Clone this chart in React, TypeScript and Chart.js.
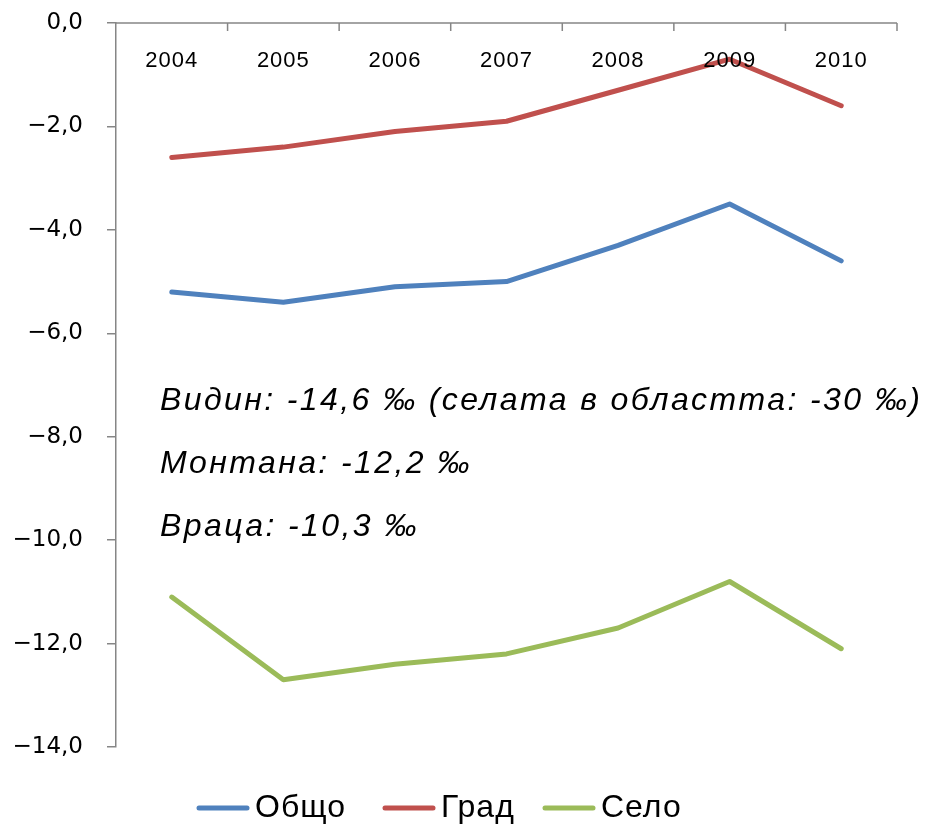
import React, { useEffect, useRef } from "react";
import { Chart, registerables } from "chart.js";

Chart.register(...registerables);

const categories = ["2004", "2005", "2006", "2007", "2008", "2009", "2010"];
const obshto = [-5.2, -5.4, -5.1, -5.0, -4.3, -3.5, -4.6];
const grad = [-2.6, -2.4, -2.1, -1.9, -1.3, -0.7, -1.6];
const selo = [-11.1, -12.7, -12.4, -12.2, -11.7, -10.8, -12.1];
const seriesNames = ["Общо", "Град", "Село"];
const seriesColors = ["#4F81BD", "#C0504D", "#9BBB59"];
const notes = [
  "Видин: -14,6 ‰ (селата в областта: -30 ‰)",
  "Монтана: -12,2 ‰",
  "Враца: -10,3 ‰",
];

const AXIS = "#868686";

const overlay = {
  id: "overlay",
  afterDraw(chart: any) {
    const { ctx, chartArea } = chart;
    const xs = chart.scales.x;
    const { left, right, top } = chartArea;
    ctx.save();
    // top category axis
    ctx.strokeStyle = AXIS;
    ctx.lineWidth = 1.5;
    ctx.beginPath();
    ctx.moveTo(left, top);
    ctx.lineTo(right, top);
    const n = categories.length;
    for (let i = 1; i <= n; i++) {
      const px = i < n ? (xs.getPixelForValue(i - 1) + xs.getPixelForValue(i)) / 2 : right;
      ctx.moveTo(px, top);
      ctx.lineTo(px, top + 8);
    }
    ctx.stroke();
    ctx.fillStyle = "#000";
    ctx.font = "22px 'Liberation Sans', Arial, sans-serif";
    (ctx as any).letterSpacing = "1px";
    ctx.textAlign = "center";
    ctx.textBaseline = "middle";
    categories.forEach((c, i) => {
      ctx.fillText(c, xs.getPixelForValue(i), top + 38);
    });
    // notes
    ctx.font = "italic 32px 'Liberation Sans', Arial, sans-serif";
    (ctx as any).letterSpacing = "2.4px";
    ctx.textAlign = "left";
    ctx.textBaseline = "alphabetic";
    const baselines = [410, 473, 536];
    notes.forEach((t, i) => ctx.fillText(t, 160, baselines[i]));
    // legend
    ctx.font = "32px 'Liberation Sans', Arial, sans-serif";
    (ctx as any).letterSpacing = "1px";
    ctx.textBaseline = "middle";
    const ly = 808;
    const lineLen = 52;
    const gapText = 6;
    const starts = [197, 383, 543];
    ctx.lineCap = "round";
    seriesNames.forEach((name, i) => {
      const x = starts[i];
      ctx.strokeStyle = seriesColors[i];
      ctx.lineWidth = 5;
      ctx.beginPath();
      ctx.moveTo(x + 2, ly);
      ctx.lineTo(x + lineLen - 2, ly);
      ctx.stroke();
      ctx.fillStyle = "#000";
      ctx.fillText(name, x + lineLen + gapText, ly);
    });
    ctx.restore();
  },
};

export default function App() {
  const ref = useRef<HTMLCanvasElement>(null);
  useEffect(() => {
    document.body.style.margin = "0";
    const series = [obshto, grad, selo];
    const chart = new Chart(ref.current!, {
      type: "line",
      data: {
        labels: categories,
        datasets: series.map((d, i) => ({
          label: seriesNames[i],
          data: d,
          borderColor: seriesColors[i],
          backgroundColor: seriesColors[i],
          borderWidth: 5,
          pointRadius: 0,
          tension: 0,
          borderCapStyle: "round" as const,
          borderJoinStyle: "round" as const,
        })),
      },
      options: {
        animation: false,
        responsive: false,
        layout: { padding: { top: 23, bottom: 84, right: 34, left: 0 } },
        plugins: { legend: { display: false }, tooltip: { enabled: false } },
        scales: {
          x: { type: "category", display: false, offset: true },
          y: {
            min: -14,
            max: 0,
            afterFit: (s: any) => {
              s.width = 116;
              s.paddingTop = 0;
              s.paddingBottom = 0;
            },
            ticks: {
              stepSize: 2,
              padding: 24,
              color: "#000",
              font: { family: "'DejaVu Sans', Verdana, sans-serif", size: 23 },
              callback: (v: any) =>
                (v < 0 ? "\u2212" : "") + Math.abs(Number(v)).toFixed(1).replace(".", ","),
            },
            grid: { drawOnChartArea: false, drawTicks: true, tickLength: 9, color: AXIS, lineWidth: 1.5 },
            border: { color: AXIS, width: 1.5 },
          },
        },
      },
      plugins: [overlay],
    });
    return () => chart.destroy();
  }, []);
  return <canvas ref={ref} width={931} height={831} style={{ display: "block" }} />;
}
